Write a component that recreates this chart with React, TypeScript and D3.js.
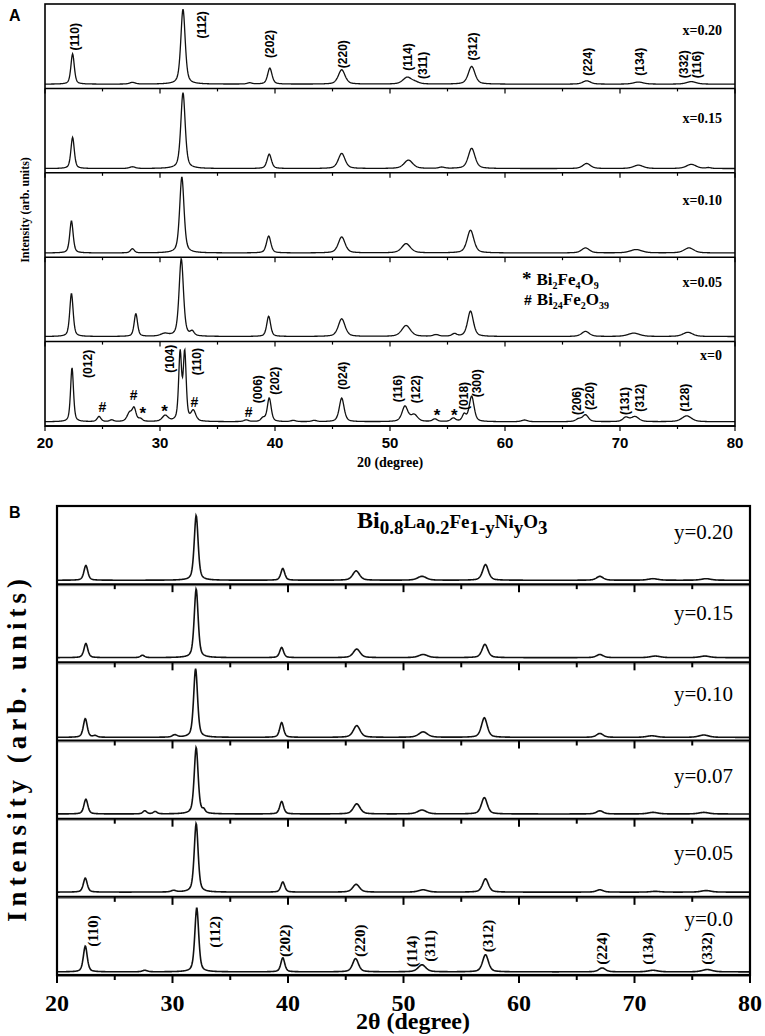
import React from "react"
import * as d3 from "d3"

// 2θ axis
const majorTicks = [20, 30, 40, 50, 60, 70, 80]
const minorTicks = [25, 35, 45, 55, 65, 75]

// panel A: Bi1-xLaxFeO3 series, peaks as [2θ, height above base (% of strip), fwhm]
const samplesA = ["x=0.20", "x=0.15", "x=0.10", "x=0.05", "x=0"]
const baseA = [5, 5, 5, 6, 5]
const peaksA020 = [
  [22.4, 36, 0.35], [27.6, 2, 0.6], [32.0, 89, 0.45], [37.8, 1.5, 0.5], [39.55, 19, 0.45],
  [45.8, 17, 0.7], [51.5, 8, 0.9], [52.2, 2, 0.8], [57.1, 21, 0.7], [67.1, 4, 0.8],
  [71.6, 2.5, 1.0], [76.2, 3, 1.0],
]
const peaksA015 = [
  [22.4, 37, 0.35], [27.6, 2, 0.6], [32.0, 90, 0.45], [39.5, 17, 0.45], [45.8, 18, 0.7],
  [51.6, 10, 0.9], [54.5, 1.5, 0.6], [57.1, 24, 0.7], [67.1, 6, 0.8], [71.6, 4, 1.0],
  [76.2, 5, 1.0], [77.7, 1, 0.5],
]
const peaksA010 = [
  [22.3, 38, 0.35], [27.6, 5, 0.4], [31.9, 90, 0.45], [39.45, 20, 0.45], [45.8, 19, 0.7],
  [51.4, 11, 0.9], [57.0, 27, 0.7], [67.0, 6, 0.8], [71.4, 4, 1.2], [76.0, 6, 1.0],
]
const peaksA005 = [
  [22.3, 51, 0.35], [27.9, 27, 0.35], [30.4, 3, 0.8], [31.85, 92, 0.45], [32.8, 5, 0.4],
  [39.45, 24, 0.4], [45.8, 21, 0.7], [51.4, 13, 0.9], [54.0, 2, 0.6], [55.6, 3, 0.5],
  [57.0, 30, 0.6], [67.0, 6, 0.8], [71.2, 4, 1.2], [75.9, 5, 1.0],
]
const peaksA000 = [
  [22.35, 64, 0.3], [24.7, 6, 0.4], [25.8, 2, 0.4], [27.35, 10, 0.5], [27.75, 15, 0.4],
  [28.3, 3, 0.4], [30.45, 7, 0.6], [31.75, 80, 0.3], [32.15, 80, 0.3], [32.9, 12, 0.5],
  [37.5, 2, 0.5], [38.95, 4, 0.4], [39.5, 28, 0.4], [41.6, 1.5, 0.5], [43.4, 1.5, 0.5],
  [45.8, 28, 0.5], [51.3, 18, 0.6], [52.1, 8, 0.7], [53.9, 3, 0.5], [55.5, 4, 0.5],
  [56.45, 8, 0.4], [57.1, 30, 0.5], [61.7, 2, 0.6], [66.4, 3, 0.6], [67.0, 8, 0.6],
  [70.5, 5, 0.6], [71.3, 6, 0.8], [75.8, 7, 1.0],
]
const peaksA = [peaksA020, peaksA015, peaksA010, peaksA005, peaksA000]

// reflections: [label, 2θ, level where the text starts (% of strip)]
const hklA020 = [
  ["(110)", 22.6, 45], ["(112)", 33.65, 59], ["(202)", 39.6, 36], ["(220)", 45.9, 24],
  ["(114)", 51.6, 21], ["(311)", 52.9, 11], ["(312)", 57.2, 33], ["(224)", 67.2, 15],
  ["(134)", 71.7, 15], ["(332)", 75.6, 12], ["(116)", 76.7, 12],
]
const hklA000 = [
  ["(012)", 23.7, 57], ["(104)", 30.9, 63], ["(110)", 33.2, 60], ["(006)", 38.5, 27],
  ["(202)", 40.0, 37], ["(024)", 45.9, 43], ["(116)", 50.7, 28], ["(122)", 52.3, 27],
  ["(018)", 56.4, 19], ["(300)", 57.6, 34], ["(206)", 66.3, 13], ["(220)", 67.4, 19],
  ["(131)", 70.4, 13], ["(312)", 71.7, 17], ["(128)", 75.65, 17],
]
// impurity marks: [symbol, 2θ, level]
const marksA000 = [
  ["#", 25.0, 22], ["#", 27.7, 37], ["*", 28.5, 22], ["*", 30.4, 24], ["#", 33.0, 28],
  ["#", 37.7, 17], ["*", 54.1, 19], ["*", 55.6, 19],
]

// panel B: Bi0.8La0.2Fe1-yNiyO3 series
const samplesB = ["y=0.20", "y=0.15", "y=0.10", "y=0.07", "y=0.05", "y=0.0"]
const baseB = [5, 6, 4, 6, 6, 4]
const peaksB020 = [
  [22.5, 19, 0.4], [32.05, 83, 0.4], [39.55, 15, 0.4], [45.9, 12, 0.7], [51.6, 5, 0.9],
  [57.1, 20, 0.6], [67.0, 5, 0.7], [71.6, 2, 1.0], [76.2, 2, 1.0],
]
const peaksB015 = [
  [22.5, 18, 0.4], [27.4, 3, 0.4], [32.05, 88, 0.4], [39.45, 13, 0.4], [45.95, 11, 0.7],
  [51.7, 4, 0.9], [57.05, 17, 0.6], [67.0, 4, 0.7], [71.8, 2, 1.0], [76.1, 2, 1.0],
]
const peaksB010 = [
  [22.45, 24, 0.4], [23.3, 2, 0.4], [30.2, 3, 0.5], [32.0, 88, 0.4], [39.45, 19, 0.4],
  [45.95, 15, 0.7], [51.7, 7, 0.9], [57.0, 25, 0.6], [67.0, 5, 0.7], [71.5, 2, 1.0],
  [76.0, 3, 1.0],
]
const peaksB007 = [
  [22.5, 19, 0.4], [27.6, 4, 0.4], [28.5, 3, 0.4], [32.05, 85, 0.4], [32.7, 4, 0.3],
  [39.45, 16, 0.4], [45.95, 13, 0.7], [51.6, 5, 0.9], [57.0, 21, 0.6], [67.0, 4, 0.7],
  [71.6, 2, 1.0], [76.0, 2, 1.0],
]
const peaksB005 = [
  [22.45, 18, 0.4], [30.1, 2, 0.5], [32.05, 88, 0.4], [39.55, 13, 0.4], [45.9, 10, 0.7],
  [51.7, 3, 0.9], [57.1, 17, 0.6], [67.0, 3, 0.7], [71.8, 1, 1.0], [76.2, 2, 1.0],
]
const peaksB000 = [
  [22.45, 33, 0.4], [27.6, 2, 0.5], [32.1, 82, 0.4], [39.55, 18, 0.4], [45.85, 17, 0.6],
  [51.6, 9, 0.8], [57.1, 22, 0.6], [67.2, 5, 0.7], [71.6, 2, 1.0], [76.3, 3, 1.0],
]
const peaksB = [peaksB020, peaksB015, peaksB010, peaksB007, peaksB005, peaksB000]

const hklB000 = [
  ["(110)", 23.1, 36], ["(112)", 33.7, 35], ["(202)", 39.7, 23], ["(220)", 46.2, 23],
  ["(114)", 50.7, 10], ["(311)", 52.3, 17], ["(312)", 57.3, 29], ["(224)", 67.2, 13],
  ["(134)", 71.2, 13], ["(332)", 76.3, 13],
]

// layout
const boxA = { left: 45, right: 735, top: 4, bottom: 426 }
const boxB = { left: 57, right: 750, top: 506, bottom: 975 }
const labelOffA = [26, 30, 28, 25, 14]
const labelOffB = [26, 29, 32, 35, 34, 22]

const SANS = "Liberation Sans, Arial, sans-serif"
const SERIF = "Liberation Serif, Times New Roman, serif"

const grid = d3.range(20, 80.0001, 0.04)
const pv = (t: number, c: number, w: number) => {
  const z = (t - c) / (w / 2)
  return 0.5 / (1 + z * z) + 0.5 * Math.exp(-Math.LN2 * z * z)
}
const profile = (peaks: number[][], base: number) =>
  grid.map((t) => [t, base + d3.sum(peaks, (p) => p[1] * pv(t, p[0], p[2]))])

const strips = (box: any, n: number) => {
  const h = (box.bottom - box.top) / n
  return d3.range(n).map((i) => {
    const top = box.top + i * h
    return { top, bottom: top + h, y: d3.scaleLinear().domain([0, 100]).range([top + h, top]) }
  })
}

const App = () => {
  const xA = d3.scaleLinear().domain([20, 80]).range([boxA.left, boxA.right])
  const xB = d3.scaleLinear().domain([20, 80]).range([boxB.left, boxB.right])
  const sA = strips(boxA, samplesA.length)
  const sB = strips(boxB, samplesB.length)

  const lineOf = (x: any, y: any) =>
    d3.line<number[]>().x((d) => x(d[0])).y((d) => y(d[1]))

  return (
    <svg width={765} height={1036} style={{ position: "absolute", left: 0, top: 0, background: "#fff" }}>
      {/* ---------- panel A ---------- */}
      <text x={9} y={21} fontFamily={SANS} fontWeight="bold" fontSize={16}>A</text>
      {sA.map((s, i) => (
        <g key={"a" + i}>
          <path d={lineOf(xA, s.y)(profile(peaksA[i], baseA[i])) || ""} fill="none" stroke="#111" strokeWidth={1.3} />
          <line x1={boxA.left} x2={boxA.right} y1={s.bottom} y2={s.bottom} stroke="#000" strokeWidth={1.5} />
          {majorTicks.concat(minorTicks).map((t) => (
            <line key={t} x1={xA(t)} x2={xA(t)} y1={s.bottom} y2={s.bottom + (majorTicks.includes(t) ? 5 : 3)} stroke="#000" strokeWidth={1.2} />
          ))}
          <text x={722} y={s.top + labelOffA[i]} textAnchor="end" dominantBaseline="central" fontFamily={SERIF} fontWeight="bold" fontSize={14}>
            {samplesA[i]}
          </text>
        </g>
      ))}
      <rect x={boxA.left} y={boxA.top} width={boxA.right - boxA.left} height={boxA.bottom - boxA.top} fill="none" stroke="#000" strokeWidth={1.6} />
      {hklA020.map(([t, x, v], i) => (
        <text key={"h1" + i} transform={`translate(${xA(x as number)},${sA[0].y(v as number)}) rotate(-90)`} dominantBaseline="central" fontFamily={SANS} fontWeight="bold" fontSize={12}>{t}</text>
      ))}
      {hklA000.map(([t, x, v], i) => (
        <text key={"h2" + i} transform={`translate(${xA(x as number)},${sA[4].y(v as number)}) rotate(-90)`} dominantBaseline="central" fontFamily={SANS} fontWeight="bold" fontSize={12}>{t}</text>
      ))}
      {marksA000.map(([t, x, v], i) => (
        <text key={"m" + i} x={xA(x as number)} y={sA[4].y(v as number) + (t === "*" ? 6 : 0)} textAnchor="middle" dominantBaseline="central" fontFamily={SANS} fontWeight="bold" fontSize={t === "*" ? 17 : 14}>{t}</text>
      ))}
      <text x={522} y={285} fontFamily={SERIF} fontWeight="bold" fontSize={17}>
        <tspan fontSize={19}>*</tspan><tspan dx={5}>Bi</tspan><tspan fontSize={10} dy={4}>2</tspan><tspan dy={-4}>Fe</tspan><tspan fontSize={10} dy={4}>4</tspan><tspan dy={-4}>O</tspan><tspan fontSize={10} dy={4}>9</tspan>
      </text>
      <text x={524} y={305} fontFamily={SERIF} fontWeight="bold" fontSize={17}>
        <tspan fontFamily={SANS} fontSize={14}>#</tspan><tspan dx={5}>Bi</tspan><tspan fontSize={10} dy={4}>24</tspan><tspan dy={-4}>Fe</tspan><tspan fontSize={10} dy={4}>2</tspan><tspan dy={-4}>O</tspan><tspan fontSize={10} dy={4}>39</tspan>
      </text>
      {majorTicks.map((t) => (
        <text key={"ta" + t} x={xA(t)} y={448} textAnchor="middle" fontFamily={SANS} fontWeight="bold" fontSize={15}>{t}</text>
      ))}
      <text x={390} y={467} textAnchor="middle" fontFamily={SERIF} fontWeight="bold" fontSize={14}>20 (degree)</text>
      <text transform="translate(25,210) rotate(-90)" textAnchor="middle" dominantBaseline="central" fontFamily={SERIF} fontWeight="bold" fontSize={12}>Intensity (arb. units)</text>

      {/* ---------- panel B ---------- */}
      <text x={9} y={518} fontFamily={SANS} fontWeight="bold" fontSize={16}>B</text>
      {sB.map((s, i) => (
        <g key={"b" + i}>
          <path d={lineOf(xB, s.y)(profile(peaksB[i], baseB[i])) || ""} fill="none" stroke="#111" strokeWidth={1.6} />
          <line x1={boxB.left} x2={boxB.right} y1={s.bottom + 1.5} y2={s.bottom + 1.5} stroke="#999" strokeWidth={1.2} />
          <line x1={boxB.left} x2={boxB.right} y1={s.bottom} y2={s.bottom} stroke="#000" strokeWidth={2} />
          {majorTicks.concat(minorTicks).map((t) => (
            <line key={t} x1={xB(t)} x2={xB(t)} y1={s.bottom} y2={s.bottom + (majorTicks.includes(t) ? 8 : 5)} stroke="#000" strokeWidth={2} />
          ))}
          <text x={733} y={s.top + labelOffB[i]} textAnchor="end" dominantBaseline="central" fontFamily={SERIF} fontSize={21}>
            {samplesB[i]}
          </text>
        </g>
      ))}
      <rect x={boxB.left} y={boxB.top} width={boxB.right - boxB.left} height={boxB.bottom - boxB.top} fill="none" stroke="#000" strokeWidth={2.2} />
      {hklB000.map(([t, x, v], i) => (
        <text key={"hb" + i} transform={`translate(${xB(x as number)},${sB[5].y(v as number)}) rotate(-90)`} dominantBaseline="central" fontFamily={SERIF} fontWeight="bold" fontSize={15}>{t}</text>
      ))}
      <text x={357} y={528} fontFamily={SERIF} fontWeight="bold" fontSize={19}>
        <tspan fontSize={24}>Bi</tspan><tspan dy={6}>0.8</tspan><tspan dy={-6}>La</tspan><tspan dy={6}>0.2</tspan><tspan dy={-6}>Fe</tspan><tspan dy={6}>1-y</tspan><tspan dy={-6}>Ni</tspan><tspan dy={6}>y</tspan><tspan dy={-6}>O</tspan><tspan dy={6}>3</tspan>
      </text>
      {majorTicks.map((t) => (
        <text key={"tb" + t} x={xB(t)} y={1011} textAnchor="middle" fontFamily={SERIF} fontWeight="bold" fontSize={24}>{t}</text>
      ))}
      <text x={413} y={1029} textAnchor="middle" fontFamily={SERIF} fontWeight="bold" fontSize={24}>2θ (degree)</text>
      <text transform="translate(17,748) rotate(-90)" textAnchor="middle" dominantBaseline="central" fontFamily={SERIF} fontWeight="bold" fontSize={27} letterSpacing={5}>Intensity (arb. units)</text>
    </svg>
  )
}

export default App
